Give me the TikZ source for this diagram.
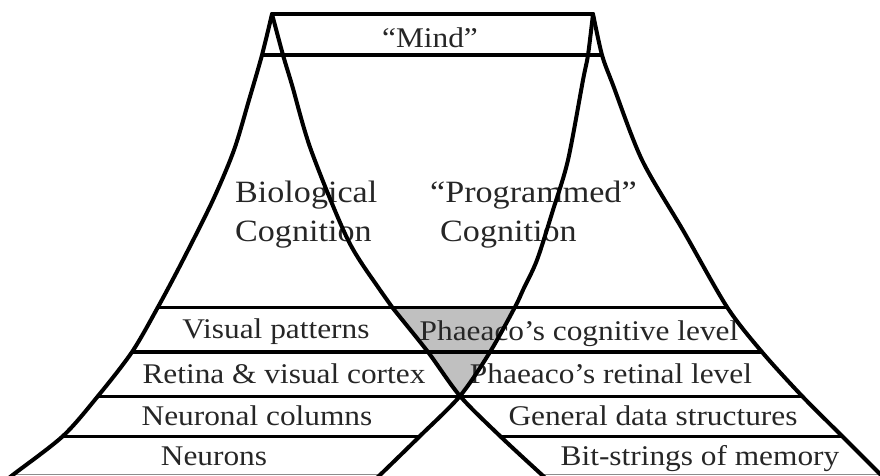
\documentclass[tikz,border=0pt]{standalone}
\usepackage{fontspec}
\setmainfont{Liberation Serif}[FakeStretch=1.1]
\definecolor{overlapgray}{RGB}{192,192,192}

\begin{document}
\begin{tikzpicture}[x=1pt, y=-1pt,
  edge/.style={line width=4pt, line cap=round, line join=round},
  level/.style={line width=3pt},
  floor/.style={line width=1pt, draw=black!45},
  lvltext/.style={inner sep=0pt, anchor=base, text=black!85, font=\fontsize{28.5}{30}\selectfont},
  headtext/.style={inner sep=0pt, anchor=base west, text=black!85, font=\fontsize{31}{33}\selectfont}
]
\useasboundingbox (0,0) rectangle (880,475);
\clip (0,0) rectangle (880,475);

\fill[overlapgray] (392,307) -- (428,352) -- (460,396) -- (490,352) -- (515,307) -- cycle;

\node[lvltext] (mind) at (430,47) {“Mind”};
\node[headtext] (bio) at (235,202) {Biological};
\node[headtext] (biocog) at (235,241) {Cognition};
\node[headtext] (prog) at (430,202) {“Programmed”};
\node[headtext] (progcog) at (440,241) {Cognition};

\node[lvltext] (visual) at (276,338) {Visual patterns};
\node[lvltext] (retina) at (284,383) {Retina \& visual cortex};
\node[lvltext] (columns) at (257,425) {Neuronal columns};
\node[lvltext] (neurons) at (214,465) {Neurons};
\node[lvltext] (phcog) at (579,340) {Phaeaco’s cognitive level};
\node[lvltext] (phret) at (611,383) {Phaeaco’s retinal level};
\node[lvltext] (datastr) at (653,425) {General data structures};
\node[lvltext] (bitstr) at (700,465) {Bit-strings of memory};

\draw[line width=4pt] (272,14) -- (593,14);
\draw[line width=4pt] (262,55) -- (602,55);
\draw[level] (158,307) -- (727,307);
\draw[level, line width=4.5pt] (132,352) -- (762,352);
\draw[level] (98,396) -- (802,396);
\draw[level] (63,436) -- (420,436);
\draw[level] (500,436) -- (842,436);
\draw[floor] (14,474) -- (381,474);
\draw[floor] (541,474) -- (880,474);

\draw[edge] plot[smooth] coordinates {(272,14) (262,55) (249,100) (234,150) (213,200) (183,260) (158,307) (132,352) (98,396) (63,436) (14,474) (4,482)};
\draw[edge] plot[smooth] coordinates {(272,14) (283,55) (292,85) (311,150) (348,240) (380,290) (392,307) (428,352) (460,396) (500,436) (541,474) (550,482)};
\draw[edge] plot[smooth] coordinates {(593,14) (588,55) (583,80) (568,160) (553,210) (537,260) (523,290) (515,307) (490,352) (460,396) (420,436) (381,474) (372,482)};
\draw[edge] plot[smooth] coordinates {(593,14) (602,55) (613,85) (642,160) (684,232) (727,307) (762,352) (802,396) (842,436) (880,474) (889,482)};

\end{tikzpicture}
\end{document}
